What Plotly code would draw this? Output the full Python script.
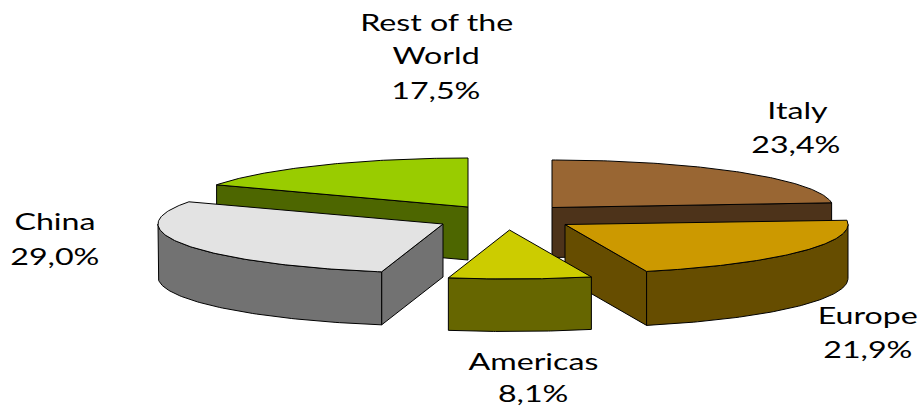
import numpy as np
import plotly.graph_objects as go

# Data, clockwise from 12 o'clock
categories = ["Italy", "Europe", "Americas", "China", "Rest of the World"]
shares = [23.4, 21.9, 8.1, 29.0, 17.5]
share_labels = ["23,4%", "21,9%", "8,1%", "29,0%", "17,5%"]

# Colours
top_colors = ["#996633", "#CC9900", "#CCCC00", "#E3E3E3", "#99CC00"]
side_colors = ["#4D331A", "#664D00", "#666600", "#727272", "#4D6600"]

# Pie geometry for each exploded slice (page pixels): apex, radii, wall height
apex_x = [552, 565, 509.5, 443, 468]
apex_y = [207.5, 224.5, 230, 224, 207]
radius_x = [281, 283, 284, 285, 282]
radius_y = [47.5, 49, 49, 49, 49]
wall = [50, 54, 52.5, 53, 53]
draw_order = [4, 0, 3, 1, 2]

# Text lines: (text, centre x, centre y)
label_lines = [
    ("Rest of the", 436, 22), ("World", 436, 55), (share_labels[4], 436, 90),
    (categories[0], 797, 110), (share_labels[0], 796, 144),
    (categories[3], 55, 221), (share_labels[3], 55, 256),
    (categories[1], 868, 315), (share_labels[1], 868, 349),
    (categories[2], 533, 361), (share_labels[2], 533, 393),
]

total = sum(shares)
bounds = np.concatenate([[0], np.cumsum(shares)]) / total * 2 * np.pi

fig = go.Figure()


def face(xs, ys, color):
    fig.add_trace(go.Scatter(
        x=list(xs) + [xs[0]], y=list(ys) + [ys[0]], mode="lines", fill="toself",
        fillcolor=color, line=dict(color="#000000", width=1),
        hoverinfo="skip", showlegend=False))


for i in draw_order:
    a, b = bounds[i], bounds[i + 1]
    cx, cy, rx, ry, h = apex_x[i], apex_y[i], radius_x[i], radius_y[i], wall[i]
    px = lambda t: cx + rx * np.sin(t)
    py = lambda t: cy - ry * np.cos(t)

    # radial walls that face the viewer
    for edge, normal in ((a, a - np.pi / 2), (b, b + np.pi / 2)):
        if np.cos(normal) < -1e-6:
            ex, ey = px(edge), py(edge)
            face([cx, ex, ex, cx], [cy, ey, ey + h, cy + h], side_colors[i])

    # outer curved wall (front half only)
    lo, hi = max(a, np.pi / 2), min(b, 3 * np.pi / 2)
    if hi > lo:
        t = np.linspace(lo, hi, 80)
        face(np.r_[px(t), px(t[::-1])], np.r_[py(t), py(t[::-1]) + h], side_colors[i])

    # top
    t = np.linspace(a, b, 120)
    face(np.r_[cx, px(t)], np.r_[cy, py(t)], top_colors[i])

for text, x, y in label_lines:
    fig.add_annotation(x=x, y=y, text=text, showarrow=False, xanchor="center", yanchor="middle",
                       font=dict(family="Lato", size=23, color="#000000"))

fig.update_layout(
    width=923, height=406, margin=dict(l=0, r=0, t=0, b=0),
    paper_bgcolor="#FFFFFF", plot_bgcolor="#FFFFFF", showlegend=False,
    xaxis=dict(range=[0, 923], visible=False, fixedrange=True),
    yaxis=dict(range=[406, 0], visible=False, fixedrange=True),
)

# The reference's lettering is stretched horizontally; widen each label about its centre.
stretch = """
document.body.style.margin='0';
document.querySelectorAll('.annotation-text').forEach(function(el){
  var b = el.getBBox(), c = b.x + b.width / 2;
  el.setAttribute('transform', 'translate(' + c + ',0) scale(1.4,1) translate(' + (-c) + ',0)');
});
"""
fig.write_html("out.html", config={"displayModeBar": False},
               default_width="923px", default_height="406px",
               post_script=stretch)
